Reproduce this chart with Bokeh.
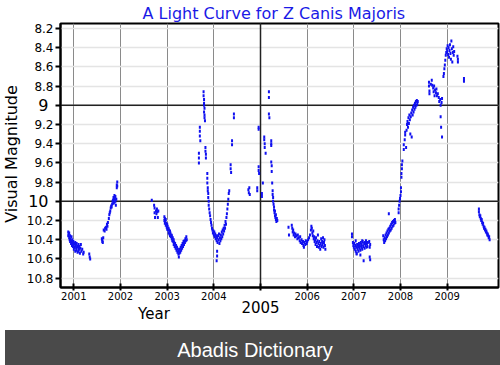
import math
from bokeh.plotting import figure
from bokeh.models import (ColumnDataSource, Range1d, FixedTicker, Label, Span, Div, LinearAxis)
from bokeh.layouts import column
from bokeh.embed import file_html
from bokeh.resources import INLINE

# ---- data: (year, visual magnitude) ----
seg_2001 = [(2000.88,10.32),(2000.88,10.36),(2000.89,10.34),(2000.90,10.38),(2000.90,10.33),(2000.91,10.40),
            (2000.92,10.36),(2000.92,10.42),(2000.93,10.39),(2000.94,10.44),(2000.95,10.37),(2000.95,10.41),
            (2000.96,10.46),(2000.97,10.40),(2000.97,10.43),(2000.98,10.47),(2000.99,10.42),(2001.00,10.45),
            (2001.00,10.50),(2001.01,10.44),(2001.02,10.48),(2001.03,10.43),(2001.03,10.52),(2001.04,10.46),
            (2001.05,10.49),(2001.06,10.44),(2001.06,10.51),(2001.07,10.47),(2001.08,10.53),(2001.09,10.48),
            (2001.10,10.45),(2001.10,10.52),(2001.11,10.50),(2001.12,10.47),(2001.13,10.54),(2001.14,10.49),
            (2001.15,10.45),(2001.16,10.52),(2001.18,10.50),(2001.20,10.55),(2001.21,10.53),(2001.33,10.55),
            (2001.34,10.58),(2001.35,10.60)]
seg_2002 = [(2001.60,10.39),(2001.61,10.42),(2001.61,10.40),(2001.62,10.43),(2001.63,10.38),(2001.64,10.30),
            (2001.66,10.31),(2001.67,10.28),(2001.69,10.27),(2001.70,10.29),(2001.71,10.24),(2001.72,10.26),
            (2001.73,10.22),(2001.75,10.18),(2001.76,10.14),(2001.77,10.12),(2001.78,10.10),(2001.79,10.07),
            (2001.80,10.05),(2001.81,10.06),(2001.82,10.03),(2001.83,10.00),(2001.84,9.99),(2001.85,10.02),
            (2001.85,9.96),(2001.86,9.98),(2001.87,10.01),(2001.87,9.94),(2001.88,9.97),(2001.89,10.00),
            (2001.89,9.95),(2001.90,10.04),(2001.91,9.98),(2001.92,9.86),(2001.92,9.83),(2001.93,9.80),
            (2001.93,9.84)]
seg_2002b = [(2002.67,9.99),(2002.72,10.04),(2002.73,10.07),(2002.73,10.12),(2002.74,10.17),(2002.76,10.10),
             (2002.77,10.13),(2002.78,10.08),(2002.79,10.11),(2002.80,10.17),(2002.81,10.10)]
seg_2003 = [(2002.94,10.16),(2002.94,10.20),(2002.95,10.18),(2002.95,10.23),(2002.96,10.21),(2002.97,10.19),
            (2002.97,10.25),(2002.98,10.23),(2002.99,10.27),(2003.00,10.24),(2003.00,10.29),(2003.01,10.26),
            (2003.02,10.30),(2003.03,10.28),(2003.03,10.33),(2003.04,10.30),(2003.05,10.34),(2003.06,10.31),
            (2003.06,10.36),(2003.07,10.33),(2003.08,10.37),(2003.09,10.35),(2003.10,10.39),(2003.10,10.36),
            (2003.11,10.41),(2003.12,10.38),(2003.13,10.42),(2003.14,10.40),(2003.14,10.45),(2003.15,10.43),
            (2003.16,10.47),(2003.17,10.44),(2003.18,10.49),(2003.19,10.46),(2003.20,10.51),(2003.21,10.48),
            (2003.22,10.53),(2003.23,10.50),(2003.24,10.55),(2003.25,10.52),(2003.25,10.58),(2003.26,10.54),
            (2003.27,10.50),(2003.28,10.53),(2003.29,10.48),(2003.30,10.51),(2003.31,10.46),(2003.32,10.49),
            (2003.33,10.44),(2003.34,10.47),(2003.35,10.42),(2003.36,10.45),(2003.37,10.41),(2003.38,10.43),
            (2003.39,10.39),(2003.40,10.41),(2003.41,10.37),(2003.42,10.40)]
seg_2004 = [(2003.68,9.50),(2003.68,9.55),(2003.68,9.60),(2003.70,9.23),(2003.70,9.27),(2003.70,9.32),
            (2003.71,9.37),(2003.78,8.86),(2003.78,8.90),(2003.79,8.94),(2003.79,8.98),(2003.79,9.00),
            (2003.80,9.03),(2003.79,9.07),(2003.80,9.10),(2003.80,9.13),(2003.81,9.16),(2003.82,9.44),
            (2003.82,9.48),(2003.83,9.51),(2003.83,9.55),(2003.86,9.71),(2003.86,9.76),(2003.86,9.81),
            (2003.87,9.86),(2003.87,9.89),(2003.88,9.92),(2003.88,9.96),(2003.89,10.00),(2003.89,10.04),
            (2003.90,10.08),(2003.91,10.12),(2003.92,10.15),(2003.93,10.19),(2003.94,10.22),(2003.95,10.25),
            (2003.96,10.28),(2003.97,10.30),(2003.98,10.33),(2003.99,10.31),(2004.00,10.35),(2004.01,10.32),
            (2004.02,10.37),(2004.03,10.34),(2004.04,10.39),(2004.05,10.36),(2004.06,10.41),(2004.07,10.38),
            (2004.07,10.52),(2004.07,10.57),(2004.06,10.62),(2004.08,10.43),(2004.09,10.36),(2004.10,10.40),
            (2004.11,10.34),(2004.12,10.44),(2004.13,10.38),(2004.14,10.41),(2004.15,10.35),(2004.16,10.39),
            (2004.17,10.32),(2004.18,10.37),(2004.19,10.30),(2004.20,10.34),(2004.21,10.28),(2004.22,10.31),
            (2004.23,10.25),(2004.24,10.28),(2004.25,10.21),(2004.26,10.24),(2004.27,10.17),(2004.28,10.13),
            (2004.29,10.08),(2004.30,10.03),(2004.31,9.98),(2004.32,9.92),(2004.33,9.89),(2004.36,9.62),
            (2004.36,9.66),(2004.37,9.70),(2004.39,9.37),(2004.39,9.41),(2004.43,9.09),(2004.43,9.13),
            (2004.74,9.88),(2004.75,9.91),(2004.76,9.86),(2004.77,9.93)]
seg_2005 = [(2004.93,9.86),(2004.93,9.89),(2004.96,9.23),(2004.96,9.25),(2004.96,9.64),(2004.96,9.68),
            (2004.97,9.71),(2005.03,9.92),(2005.03,9.95),(2005.05,9.81),(2005.08,9.33),(2005.08,9.36),
            (2005.09,9.40),(2005.09,9.44),(2005.11,9.50),(2005.18,8.86),(2005.18,8.92),(2005.18,9.09),
            (2005.19,9.13),(2005.23,9.37),(2005.23,9.40),(2005.23,9.42),(2005.23,9.59),(2005.24,9.63),
            (2005.24,9.69),(2005.25,9.81),(2005.26,9.89),(2005.26,9.93),(2005.27,9.96),(2005.27,10.00),
            (2005.28,10.03),(2005.29,10.06),(2005.29,10.09),(2005.30,10.12),(2005.31,10.10),(2005.31,10.15),
            (2005.32,10.17),(2005.33,10.14),(2005.33,10.19),(2005.34,10.21),(2005.35,10.18),(2005.36,10.20)]
seg_2006 = [(2005.60,10.27),(2005.61,10.35),(2005.67,10.25),(2005.68,10.28),(2005.69,10.32),(2005.70,10.30),
            (2005.71,10.35),(2005.72,10.33),(2005.74,10.37),(2005.75,10.34),(2005.77,10.36),(2005.79,10.39),
            (2005.80,10.35),(2005.82,10.38),(2005.84,10.41),(2005.85,10.37),(2005.86,10.43),(2005.88,10.40),
            (2005.89,10.44),(2005.91,10.42),(2005.92,10.46),(2005.93,10.48),(2005.94,10.43),(2005.96,10.45),
            (2005.97,10.41),(2005.99,10.44),(2006.00,10.42),(2006.02,10.40),(2006.04,10.38),(2006.06,10.35),
            (2006.08,10.30),(2006.09,10.26),(2006.10,10.28),(2006.11,10.33),(2006.12,10.36),(2006.13,10.31),
            (2006.14,10.39),(2006.15,10.37),(2006.16,10.42),(2006.17,10.40),(2006.18,10.45),(2006.19,10.38),
            (2006.20,10.43),(2006.21,10.47),(2006.22,10.41),(2006.23,10.35),(2006.24,10.44),(2006.25,10.48),
            (2006.26,10.42),(2006.27,10.46),(2006.28,10.50),(2006.29,10.44),(2006.30,10.39),(2006.31,10.47),
            (2006.32,10.42),(2006.33,10.45),(2006.34,10.38),(2006.35,10.48),(2006.36,10.43),(2006.37,10.40),
            (2006.38,10.46),(2006.39,10.50)]
seg_2007 = [(2006.96,10.34),(2006.96,10.37),(2006.98,10.43),(2006.99,10.46),(2007.00,10.48),(2007.01,10.44),
            (2007.02,10.50),(2007.03,10.46),(2007.04,10.52),(2007.05,10.48),(2007.06,10.54),(2007.07,10.45),
            (2007.08,10.50),(2007.09,10.47),(2007.10,10.52),(2007.11,10.44),(2007.12,10.49),(2007.13,10.46),
            (2007.14,10.51),(2007.15,10.43),(2007.16,10.48),(2007.17,10.45),(2007.18,10.50),(2007.19,10.42),
            (2007.20,10.47),(2007.21,10.62),(2007.22,10.44),(2007.23,10.49),(2007.24,10.43),(2007.25,10.46),
            (2007.26,10.41),(2007.27,10.48),(2007.28,10.44),(2007.29,10.47),(2007.30,10.43),(2007.33,10.42),
            (2007.34,10.48),(2007.34,10.58),(2007.35,10.61),(2007.35,10.45),(2007.06,10.55),(2007.14,10.56),
            (2007.04,10.41),(2007.18,10.41)]
seg_2008 = [(2007.63,10.36),(2007.64,10.40),(2007.65,10.43),(2007.66,10.38),(2007.67,10.41),(2007.68,10.35),
            (2007.69,10.39),(2007.70,10.33),(2007.71,10.37),(2007.72,10.31),(2007.73,10.35),(2007.74,10.29),
            (2007.75,10.13),(2007.75,10.33),(2007.76,10.28),(2007.77,10.31),(2007.78,10.26),(2007.79,10.30),
            (2007.80,10.24),(2007.81,10.28),(2007.82,10.22),(2007.83,10.26),(2007.84,10.21),(2007.85,10.25),
            (2007.86,10.20),(2007.87,10.23),(2007.88,10.19),(2007.89,10.22),(2007.96,10.12),(2007.96,10.08),
            (2007.97,10.04),(2007.98,10.00),(2007.99,9.97),(2008.00,9.94),(2008.01,9.90),(2008.01,9.86),
            (2008.02,9.75),(2008.02,9.71),(2008.03,9.66),(2008.03,9.62),(2008.04,9.58),(2008.07,9.41),
            (2008.07,9.46),(2008.09,9.36),(2008.10,9.31),(2008.10,9.28),(2008.12,9.44),(2008.13,9.26),
            (2008.14,9.20),(2008.15,9.17),(2008.16,9.23),(2008.17,9.13),(2008.18,9.19),(2008.19,9.10),
            (2008.20,9.15),(2008.21,9.30),(2008.22,9.12),(2008.23,9.08),(2008.24,9.33),(2008.25,9.05),
            (2008.26,9.10),(2008.27,9.02),(2008.28,9.07),(2008.29,9.00),(2008.30,9.04),(2008.31,8.98),
            (2008.32,9.02),(2008.33,8.96),(2008.34,9.00),(2008.35,8.95),(2008.36,8.99),(2008.37,8.96)]
seg_2009 = [(2008.61,8.76),(2008.61,8.80),(2008.62,8.85),(2008.62,8.88),(2008.65,8.78),(2008.67,8.74),
            (2008.68,8.79),(2008.70,8.82),(2008.71,8.86),(2008.72,8.80),(2008.73,8.90),(2008.74,8.84),
            (2008.76,8.87),(2008.77,8.83),(2008.78,8.90),(2008.80,8.88),(2008.82,8.92),(2008.83,8.96),
            (2008.85,8.94),(2008.86,9.00),(2008.86,9.12),(2008.87,9.23),(2008.89,9.33),(2008.88,8.97),
            (2008.89,8.93),(2008.92,8.70),(2008.93,8.67),(2008.94,8.62),(2008.95,8.58),(2008.96,8.53),
            (2008.97,8.48),(2008.98,8.45),(2008.99,8.41),(2009.00,8.44),(2009.01,8.38),(2009.02,8.47),
            (2009.03,8.40),(2009.04,8.50),(2009.05,8.43),(2009.06,8.37),(2009.07,8.46),(2009.08,8.52),
            (2009.09,8.33),(2009.10,8.41),(2009.11,8.55),(2009.12,8.45),(2009.13,8.39),(2009.14,8.48),
            (2009.15,8.44),(2009.22,8.49),(2009.23,8.52),(2009.23,8.55),(2009.36,8.72),(2009.36,8.75)]
seg_2010 = [(2009.68,10.08),(2009.68,10.11),(2009.69,10.14),(2009.70,10.16),(2009.71,10.15),(2009.72,10.18),
            (2009.73,10.20),(2009.74,10.19),(2009.75,10.22),(2009.76,10.24),(2009.77,10.23),(2009.78,10.26),
            (2009.79,10.28),(2009.80,10.27),(2009.81,10.30),(2009.82,10.29),(2009.83,10.32),(2009.84,10.31),
            (2009.85,10.33),(2009.86,10.35),(2009.87,10.34),(2009.88,10.36),(2009.89,10.38),(2009.90,10.37),
            (2009.91,10.40)]

year_ticks = [2001, 2002, 2003, 2004, 2005, 2006, 2007, 2008, 2009]
year_labels = ["2001", "2002", "2003", "2004", "", "2006", "2007", "2008", "2009"]
big_year_tick = 2005
mag_ticks = [8.2, 8.4, 8.6, 8.8, 9.0, 9.2, 9.4, 9.6, 9.8, 10.0, 10.2, 10.4, 10.6, 10.8]
mag_labels = ["8.2", "8.4", "8.6", "8.8", "", "9.2", "9.4", "9.6", "9.8", "", "10.2", "10.4", "10.6", "10.8"]
big_mag_ticks = [9.0, 10.0]
big_mag_labels = ["9", "\u00a010"]
title_text = "A Light Curve for Z Canis Majoris"
x_label = "Year"
y_label = "Visual Magnitude"
banner_text = "Abadis Dictionary"

X_LABEL_POS = 2002.717
Y_LABEL_POS = (1999.664, 9.507)

segments = [seg_2001, seg_2002, seg_2002b, seg_2003, seg_2004, seg_2005,
            seg_2006, seg_2007, seg_2008, seg_2009, seg_2010]
xs = [pt[0] for s in segments for pt in s]
ys = [pt[1] for s in segments for pt in s]
src = ColumnDataSource(dict(x=xs, y=ys))

X0, X1 = 2000.714, 2010.10
Y_TOP = 8.148
FRAME_H = 325 - 23 - 38
Y_BOTTOM = Y_TOP + FRAME_H / 96.0

p = figure(width=500, height=325, output_backend="svg", toolbar_location=None,
           x_range=Range1d(X0, X1), y_range=Range1d(Y_BOTTOM, Y_TOP),
           min_border_left=60, min_border_right=2, min_border_top=23, min_border_bottom=38)
p.background_fill_color = "white"
p.border_fill_color = "white"
p.outline_line_color = "black"
p.outline_line_width = 2

p.title.text = title_text
p.title.align = "left"
p.title.offset = 82
p.title.standoff = 1
p.title.text_font = "DejaVu Sans"
p.title.text_font_size = "16px"
p.title.text_font_style = "normal"
p.title.text_color = "#1a1ae6"

# grids
p.xgrid.ticker = FixedTicker(ticks=year_ticks)
p.xgrid.grid_line_color = "#8a8a8a"
p.xgrid.grid_line_width = 1
p.ygrid.ticker = FixedTicker(ticks=mag_ticks)
p.ygrid.grid_line_color = "#e4e4e4"
p.ygrid.grid_line_width = 1.5

for v in big_mag_ticks:
    p.add_layout(Span(location=v, dimension="width", line_color="#222222", line_width=1.5, level="underlay"))
p.add_layout(Span(location=big_year_tick, dimension="height", line_color="#222222", line_width=1.5,
                  level="underlay"))

def style_plain(ax, size):
    ax.major_label_text_font = "DejaVu Sans"
    ax.major_label_text_font_size = size
    ax.major_label_text_color = "black"
    ax.minor_tick_line_color = None
    ax.minor_tick_in = 0
    ax.minor_tick_out = 0

def hide_rule(ax):
    ax.axis_line_color = None
    ax.major_tick_line_color = None
    ax.major_tick_in = 0
    ax.major_tick_out = 0

# main x axis
xa = p.xaxis[0]
xa.ticker = FixedTicker(ticks=year_ticks)
xa.major_label_overrides = dict(zip(year_ticks, year_labels))
style_plain(xa, "10px")
xa.major_label_standoff = 1
xa.major_tick_in = 4
xa.major_tick_out = 3
xa.major_tick_line_width = 2
xa.axis_line_width = 2
xa.axis_line_color = "black"

# big "2005" label axis
xa2 = LinearAxis(ticker=FixedTicker(ticks=[big_year_tick]),
                 major_label_overrides={big_year_tick: str(big_year_tick)})
style_plain(xa2, "15px")
hide_rule(xa2)
xa2.major_label_standoff = -2
p.add_layout(xa2, "below")

# "Year" axis title placed as in the reference
xa3 = LinearAxis(ticker=FixedTicker(ticks=[X_LABEL_POS]), major_label_overrides={X_LABEL_POS: x_label})
style_plain(xa3, "15px")
hide_rule(xa3)
xa3.major_label_standoff = -11
p.add_layout(xa3, "below")

# main y axis
ya = p.yaxis[0]
ya.ticker = FixedTicker(ticks=mag_ticks)
ya.major_label_overrides = dict(zip(mag_ticks, mag_labels))
style_plain(ya, "12px")
ya.major_label_standoff = 2
ya.major_tick_in = 0
ya.major_tick_out = 5
ya.major_tick_line_width = 2
ya.axis_line_width = 2
ya.axis_line_color = "black"

# big "9" / "10" labels
ya2 = LinearAxis(ticker=FixedTicker(ticks=big_mag_ticks),
                 major_label_overrides=dict(zip(big_mag_ticks, big_mag_labels)))
style_plain(ya2, "16px")
hide_rule(ya2)
ya2.major_label_standoff = -25
p.add_layout(ya2, "left")

# y axis title
p.add_layout(Label(x=Y_LABEL_POS[0], y=Y_LABEL_POS[1], text=y_label, angle=math.pi / 2,
                   text_align="center", text_baseline="middle", text_font="DejaVu Sans",
                   text_font_size="16px", text_color="black"), "left")

# data points
p.rect(x="x", y="y", width=2, height=3, width_units="screen", height_units="screen",
       source=src, fill_color="#1010f0", line_color=None)

banner = Div(text=banner_text, width=500, height=40,
             styles={"background-color": "#4a4a4a", "color": "white", "font-size": "20px",
                     "font-family": "Liberation Sans, Arial, sans-serif", "text-align": "center",
                     "line-height": "40px"})

layout = column(p, banner, spacing=0)
open("out.html", "w").write(file_html(layout, INLINE))
